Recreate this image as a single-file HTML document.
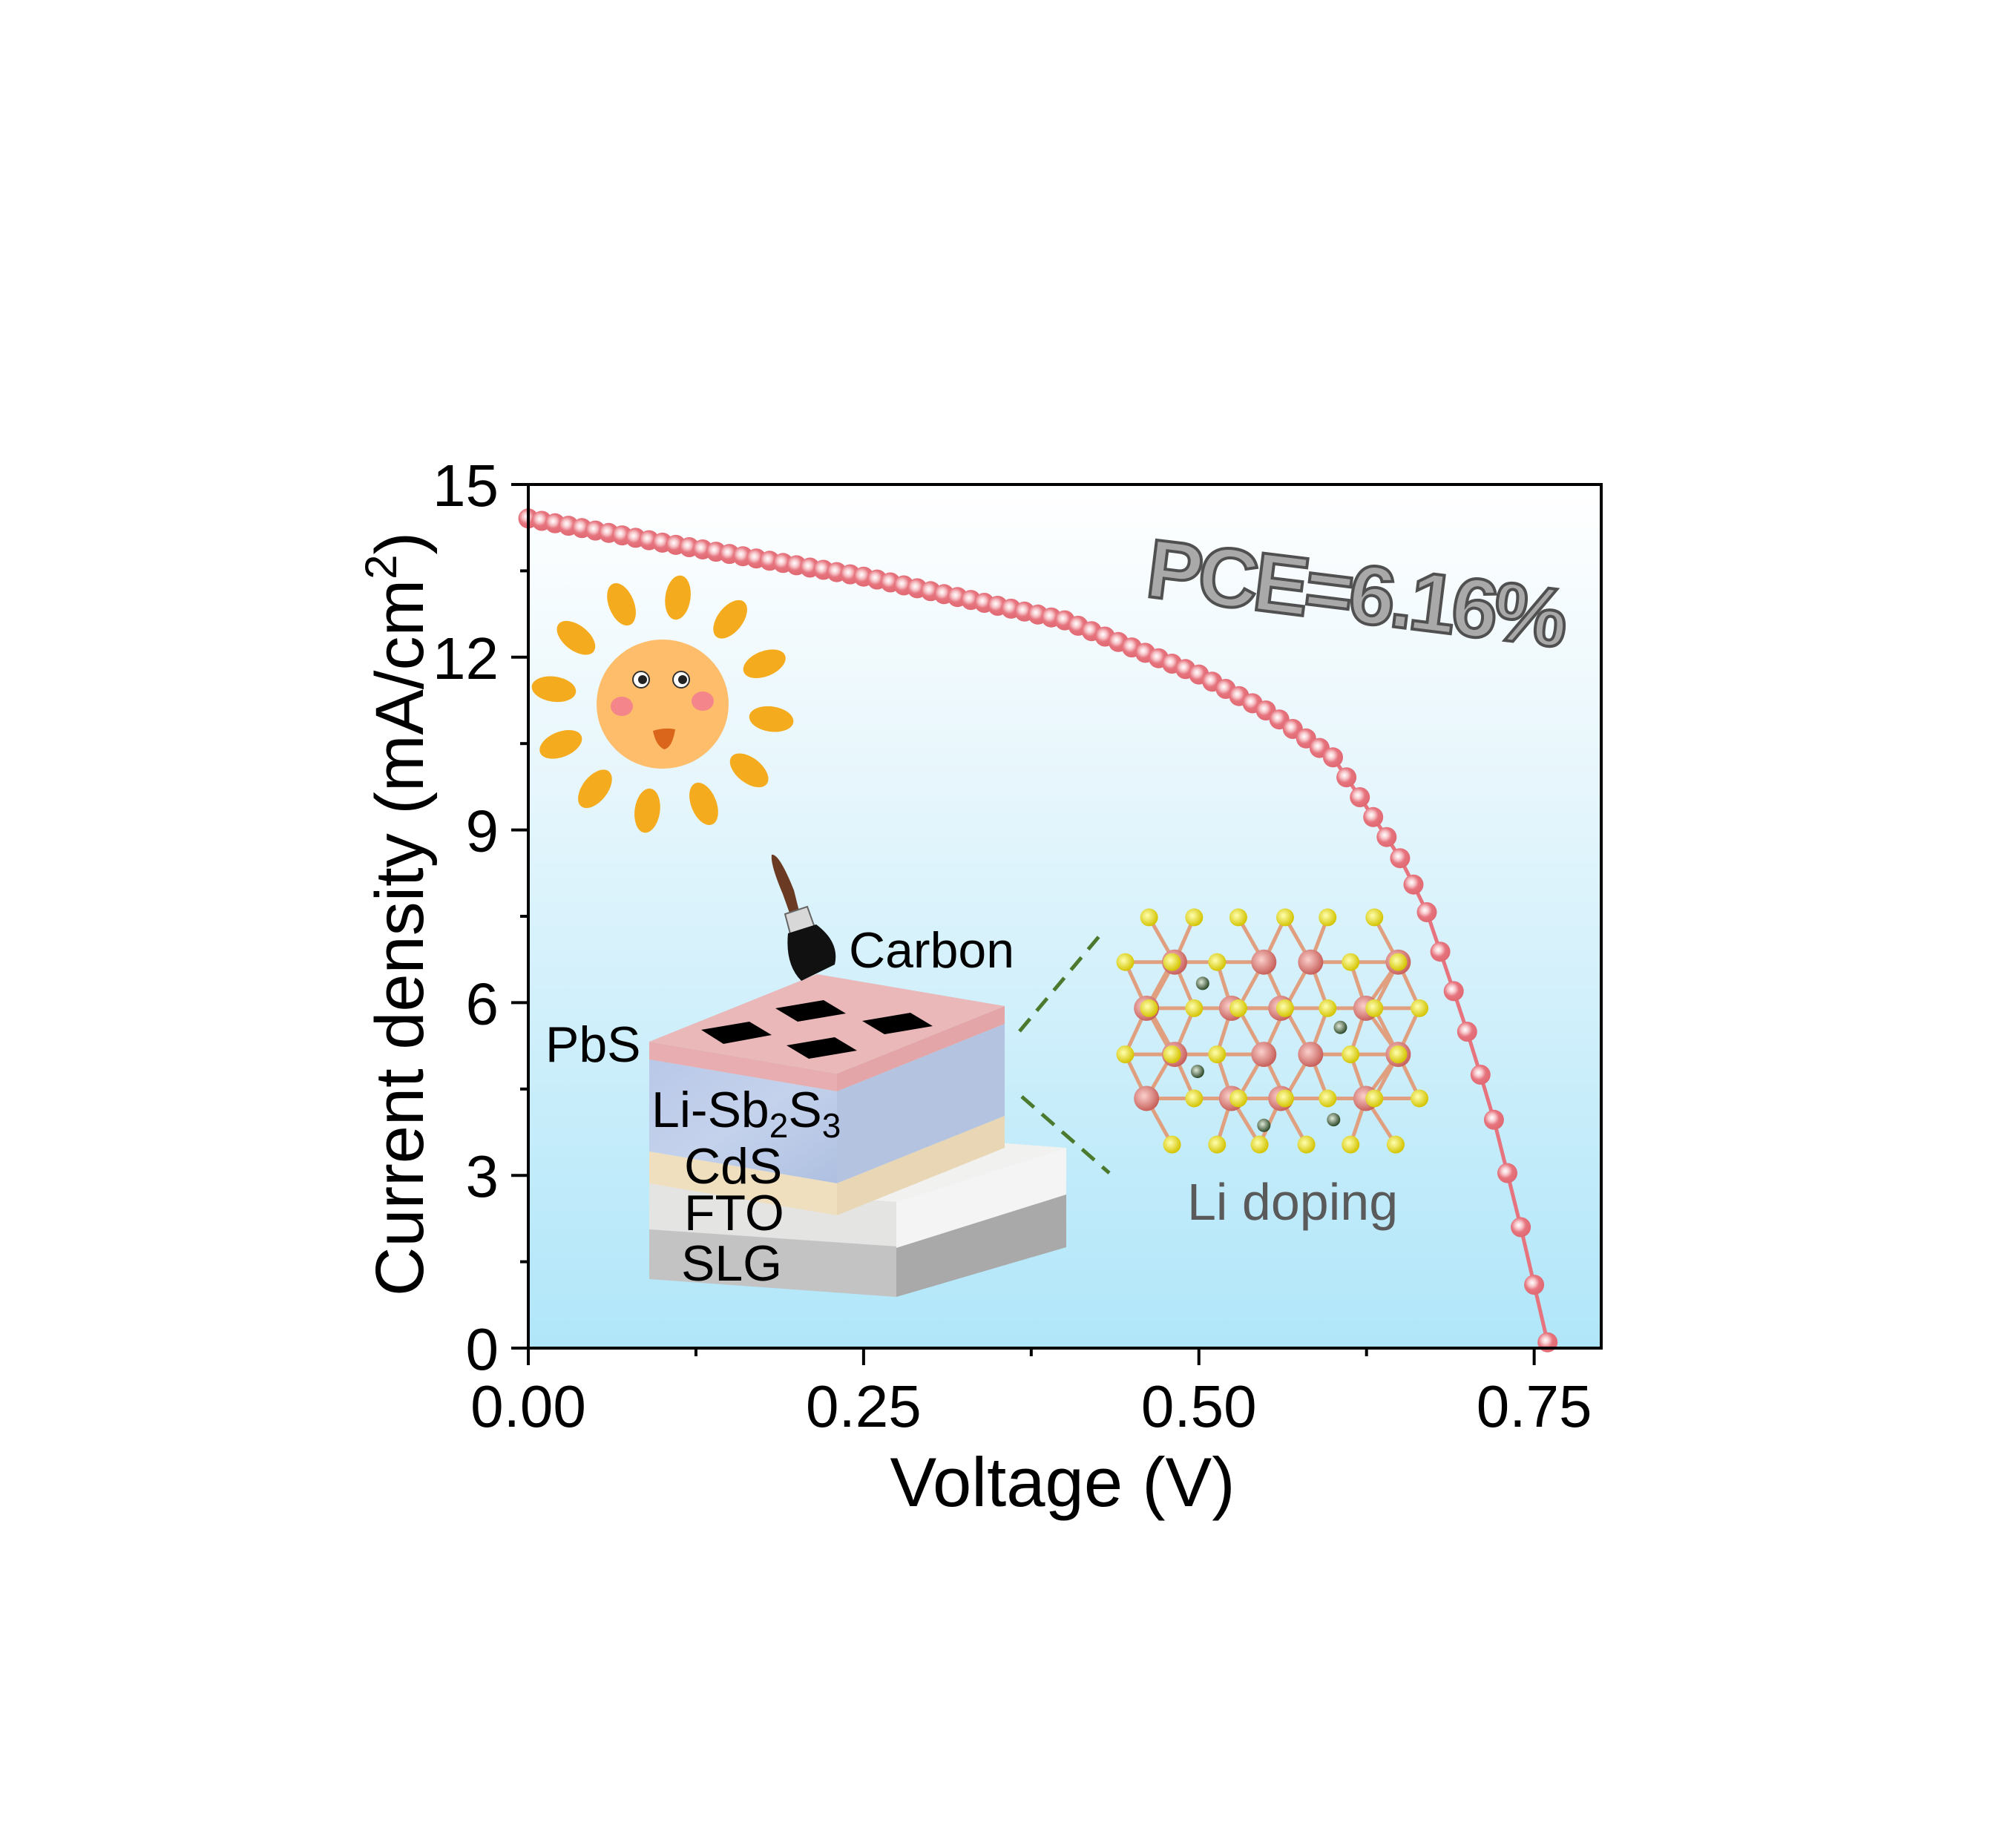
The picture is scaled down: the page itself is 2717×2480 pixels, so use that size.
<!DOCTYPE html>
<html><head><meta charset="utf-8"><style>
html,body{margin:0;padding:0;background:#fff}
svg{display:block}
text{font-family:"Liberation Sans",sans-serif}
</style></head><body>
<svg id="s" width="2717" height="2480" viewBox="0 0 2717 2480" xmlns="http://www.w3.org/2000/svg">
<defs>
<linearGradient id="bg" x1="0" y1="0" x2="0" y2="1">
<stop offset="0" stop-color="#ffffff"/><stop offset="0.35" stop-color="#e6f6fc"/><stop offset="1" stop-color="#b0e6f9"/>
</linearGradient>
<radialGradient id="dot" cx="0.4" cy="0.4" r="0.6">
<stop offset="0" stop-color="#ffffff"/><stop offset="0.3" stop-color="#f7c8cc"/><stop offset="0.6" stop-color="#e6737d"/><stop offset="1" stop-color="#e06a74"/>
</radialGradient>
<radialGradient id="sb" cx="0.4" cy="0.4" r="0.6"><stop offset="0" stop-color="#fbd0cc"/><stop offset="1" stop-color="#c8615c"/></radialGradient>
<radialGradient id="su" cx="0.4" cy="0.4" r="0.6"><stop offset="0" stop-color="#ffffb0"/><stop offset="1" stop-color="#d4c400"/></radialGradient>
<radialGradient id="li" cx="0.4" cy="0.4" r="0.6"><stop offset="0" stop-color="#dfe8d8"/><stop offset="1" stop-color="#2e4a2a"/></radialGradient>
<linearGradient id="lisb" x1="0" y1="0" x2="1" y2="1"><stop offset="0" stop-color="#b9c8e8"/><stop offset="0.5" stop-color="#c4d2ec"/><stop offset="1" stop-color="#aebfe0"/></linearGradient>
</defs>
<rect x="712" y="653" width="1446" height="1164" fill="url(#bg)"/>
<g id="curve"></g>

<g id="sun"></g>

<polygon points="875,1595 1208,1620 1437,1547 1104,1522" fill="#f1f1ef"/>
<polygon points="875,1595 1208,1620 1208,1680 875,1657" fill="#e4e4e2"/>
<polygon points="875,1657 1208,1680 1208,1748 875,1724" fill="#c3c3c3"/>
<polygon points="1208,1620 1437,1547 1437,1610 1208,1682" fill="#f4f4f4"/>
<polygon points="1208,1682 1437,1610 1437,1681 1208,1748" fill="#a9a9a9"/>
<polygon points="875,1404 1128,1447 1128,1471 875,1428" fill="#e7adb0"/>
<polygon points="875,1428 1128,1471 1128,1595 875,1552" fill="url(#lisb)"/>
<polygon points="875,1552 1128,1595 1128,1638 875,1595" fill="#f0dfbf"/>
<polygon points="1128,1447 1354,1356 1354,1380 1128,1471" fill="#e3a5a8"/>
<polygon points="1128,1471 1354,1380 1354,1504 1128,1595" fill="#b4c4e0"/>
<polygon points="1128,1595 1354,1504 1354,1547 1128,1638" fill="#e8d6b4"/>
<polygon points="875,1404 1128,1447 1354,1356 1101,1313" fill="#eab8b8"/>
<polygon points="945,1388 1010,1377 1040,1395 975,1407" fill="#000"/>
<polygon points="1045,1359 1110,1348 1140,1366 1075,1377" fill="#000"/>
<polygon points="1060,1409 1125,1398 1155,1416 1090,1427" fill="#000"/>
<polygon points="1162,1376 1227,1365 1257,1383 1192,1394" fill="#000"/>

<path d="M1040,1152 Q1050,1150 1070,1200 L1078,1232 L1066,1236 L1055,1205 Q1038,1165 1040,1152Z" fill="#6b3a22"/>
<polygon points="1058,1232 1088,1222 1098,1250 1066,1262" fill="#d8d8d8" stroke="#666" stroke-width="2"/>
<path d="M1062,1258 L1100,1246 Q1132,1270 1125,1300 L1080,1322 Q1058,1300 1062,1258Z" fill="#111"/>

<g font-size="68" fill="#000">
<text x="1144" y="1304">Carbon</text>
<text x="735" y="1431">PbS</text>
<text x="878" y="1519">Li-Sb<tspan font-size="46" dy="14">2</tspan><tspan dy="-14">S</tspan><tspan font-size="46" dy="14">3</tspan></text>
<text x="922" y="1595">CdS</text>
<text x="922" y="1658">FTO</text>
<text x="918" y="1726">SLG</text>
</g>
<line x1="1374" y1="1390" x2="1483" y2="1260" stroke="#4b7a2e" stroke-width="5" stroke-dasharray="22,14"/>
<line x1="1377" y1="1478" x2="1495" y2="1581" stroke="#4b7a2e" stroke-width="5" stroke-dasharray="22,14"/>
<g id="cryst"></g>
<text x="1600" y="1644" font-size="70" fill="#5a5a5a">Li doping</text>

<text x="1545" y="838" font-size="112" font-weight="bold" fill="#a9a9a9" stroke="#505050" stroke-width="4" transform="rotate(7 1826 796)" textLength="570">PCE=6.16%</text>

<rect x="712" y="653" width="1446" height="1164" fill="none" stroke="#000" stroke-width="4"/>
<g id="ticks" stroke="#000" stroke-width="4"></g>
<g font-size="80" fill="#000" text-anchor="end" id="ylab"></g>
<g font-size="80" fill="#000" text-anchor="middle" id="xlab"></g>
<text x="1432" y="2030" font-size="94" text-anchor="middle">Voltage (V)</text>
<text transform="translate(570 1232) rotate(-90)" font-size="92" text-anchor="middle">Current density (mA/cm<tspan font-size="60" dy="-36">2</tspan><tspan dy="36">)</tspan></text>
</svg>
<script>
var NS="http://www.w3.org/2000/svg";
function el(p,t,a){var e=document.createElementNS(NS,t);for(var k in a)e.setAttribute(k,a[k]);p.appendChild(e);return e;}
function X(v){return 712+v*1807.5;}function Y(j){return 1817-j*77.6;}
var tb=[[0,14.41],[0.1,13.99],[0.25,13.40],[0.4,12.64],[0.5,11.70],[0.552,11.05],[0.6,10.26],[0.648,8.6],[0.669,7.64],[0.697,5.72],[0.718,4.15],[0.738,2.3],[0.759,0.2],[0.761,0]];
function J(v){for(var i=0;i<tb.length-1;i++){if(v<=tb[i+1][0]){var a=tb[i],b=tb[i+1];return a[1]+(b[1]-a[1])*(v-a[0])/(b[0]-a[0]);}}return 0;}
var g=document.getElementById('curve'),pts=[];
for(var i=0;i<=76;i++){var v=i*0.01;pts.push(X(v).toFixed(1)+','+Y(J(v)).toFixed(1));}
el(g,'polyline',{points:pts.join(' '),fill:'none',stroke:'#e6737d','stroke-width':5});
pts.forEach(function(p){var q=p.split(',');el(g,'circle',{cx:q[0],cy:q[1],r:13.5,fill:'url(#dot)'});});
var t=document.getElementById('ticks'),yl=document.getElementById('ylab'),xl=document.getElementById('xlab');
for(var k=0;k<=10;k++){var j=k*1.5,y=Y(j),L=(k%2==0)?23:11;el(t,'line',{x1:712-L,y1:y,x2:712,y2:y});
 if(k%2==0){var tx=el(yl,'text',{x:672,y:y+29});tx.textContent=String(j);}}
for(var k=0;k<=6;k++){var v=k*0.125,x=X(v),L=(k%2==0)?23:11;el(t,'line',{x1:x,y1:1817,x2:x,y2:1817+L});
 if(k%2==0){var tx=el(xl,'text',{x:x,y:1923});tx.textContent=v.toFixed(2);}}
var s=document.getElementById('sun'),cx=893,cy=949;
for(var k=0;k<12;k++){var a=k*30+8,r=a*Math.PI/180,rx=cx+148*Math.cos(r),ry=cy+145*Math.sin(r);
 el(s,'ellipse',{cx:rx,cy:ry,rx:17,ry:30,fill:'#f5ab1e',transform:'rotate('+(a+90)+' '+rx+' '+ry+')'});}
el(s,'ellipse',{cx:cx,cy:cy,rx:89,ry:87,fill:'#fdbd6a'});
el(s,'ellipse',{cx:838,cy:952,rx:15,ry:13,fill:'#f4858a'});el(s,'ellipse',{cx:947,cy:945,rx:15,ry:13,fill:'#f4858a'});
[[864,916],[918,916]].forEach(function(p){el(s,'circle',{cx:p[0],cy:p[1],r:11,fill:'#fff',stroke:'#333','stroke-width':2});el(s,'circle',{cx:p[0]+2,cy:p[1],r:6,fill:'#222'});});
el(s,'path',{d:'M880,985 Q896,980 910,983 Q906,1008 895,1010 Q884,1005 880,985Z',fill:'#d9661a'});
var c=document.getElementById('cryst');function OX(x){return 500+1.146*x;}function OY(y){return 600+0.957*y;}
var sb=[[945,728],[1050,728],[1105,728],[1208,728],[912,793],[1012,793],[1070,793],[1170,793],[945,858],[1050,858],[1105,858],[1208,858],[912,920],[1012,920],[1070,920],[1170,920]];
var su=[[915,665],[968,665],[1020,665],[1075,665],[1125,665],[1180,665],[887,728],[942,728],[995,728],[1152,728],[1208,728],[915,793],[968,793],[1020,793],[1075,793],[1125,793],[1180,793],[1233,793],[887,858],[942,858],[995,858],[1152,858],[1208,858],[968,920],[1020,920],[1075,920],[1125,920],[1180,920],[1233,920],[942,985],[995,985],[1045,985],[1100,985],[1152,985],[1205,985]];
sb.forEach(function(p){su.forEach(function(q){var d=Math.hypot(p[0]-q[0],p[1]-q[1]);if(d<80)el(c,'line',{x1:OX(p[0]),y1:OY(p[1]),x2:OX(q[0]),y2:OY(q[1]),stroke:'#e0a080','stroke-width':5});});});
sb.forEach(function(p){el(c,'circle',{cx:OX(p[0]),cy:OY(p[1]),r:17,fill:'url(#sb)'});});
su.forEach(function(p){el(c,'circle',{cx:OX(p[0]),cy:OY(p[1]),r:12,fill:'url(#su)'});});
[[978,758],[1140,820],[972,882],[1050,958],[1132,950]].forEach(function(p){el(c,'circle',{cx:OX(p[0]),cy:OY(p[1]),r:9,fill:'url(#li)'});});
</script>
</body></html>
